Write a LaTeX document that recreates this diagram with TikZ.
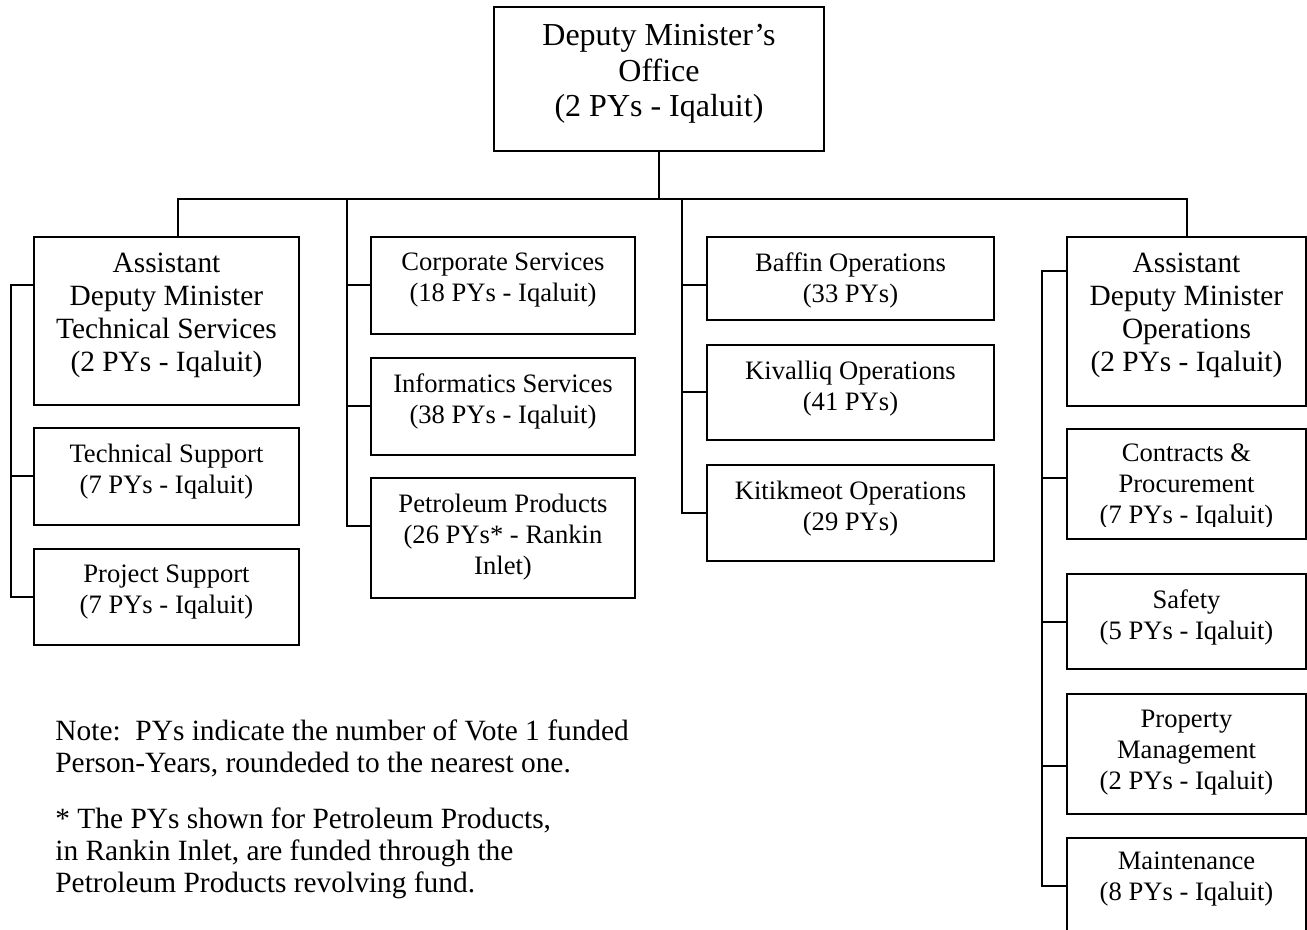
\documentclass[tikz,border=0pt]{standalone}
\usepackage{fontspec}
\setmainfont{Liberation Serif}
\usetikzlibrary{positioning, fit}

\begin{document}
\begin{tikzpicture}[
    x=0.5pt, y=-0.5pt,
    box/.style={rectangle, draw, line width=1pt, inner sep=0pt},
    big/.style={font=\fontsize{14.7}{16.5}\selectfont, align=center, inner sep=0pt},
    small/.style={font=\fontsize{13.3}{15.5}\selectfont, align=center, inner sep=0pt},
    note/.style={font=\fontsize{14.7}{16}\selectfont, align=left, inner sep=0pt, anchor=north west},
    link/.style={line width=1pt},
  ]
  \useasboundingbox (0,0) rectangle (1307,930);
  \clip (0,0) rectangle (1307,930);

  % deputy minister
  \node[box, fit={(494,7) (824,151)}] (dmo) {};
  \node[big, font=\fontsize{16}{17.75}\selectfont, below=9pt of dmo.north] (dmo-t) {Deputy Minister's\\Office\\(2 PYs - Iqaluit)};

  % technical services
  \node[box, fit={(34,237) (299,405)}] (admt) {};
  \node[big, below=8.3pt of admt.north] (admt-t) {Assistant\\Deputy Minister\\Technical Services\\(2 PYs - Iqaluit)};
  \node[box, fit={(34,428) (299,525)}] (tsup) {};
  \node[small, below=8.3pt of tsup.north] (tsup-t) {Technical Support\\(7 PYs - Iqaluit)};
  \node[box, fit={(34,549) (299,645)}] (psup) {};
  \node[small, below=8.3pt of psup.north] (psup-t) {Project Support\\(7 PYs - Iqaluit)};

  % corporate column
  \node[box, fit={(371,237) (635,334)}] (corp) {};
  \node[small, below=8.3pt of corp.north] (corp-t) {Corporate Services\\(18 PYs - Iqaluit)};
  \node[box, fit={(371,358) (635,455)}] (info) {};
  \node[small, below=8.3pt of info.north] (info-t) {Informatics Services\\(38 PYs - Iqaluit)};
  \node[box, fit={(371,478) (635,598)}] (petr) {};
  \node[small, below=8.3pt of petr.north] (petr-t) {Petroleum Products\\(26 PYs* - Rankin\\Inlet)};

  % regions
  \node[box, fit={(707,237) (994,320)}] (baff) {};
  \node[small, below=8.3pt of baff.north] (baff-t) {Baffin Operations\\(33 PYs)};
  \node[box, fit={(707,345) (994,440)}] (kiva) {};
  \node[small, below=8.3pt of kiva.north] (kiva-t) {Kivalliq Operations\\(41 PYs)};
  \node[box, fit={(707,465) (994,561)}] (kiti) {};
  \node[small, below=8.3pt of kiti.north] (kiti-t) {Kitikmeot Operations\\(29 PYs)};

  % operations
  \node[box, fit={(1067,237) (1306,406)}] (admo) {};
  \node[big, below=8.3pt of admo.north] (admo-t) {Assistant\\Deputy Minister\\Operations\\(2 PYs - Iqaluit)};
  \node[box, fit={(1067,429) (1306,539)}] (cont) {};
  \begin{scope}
    \clip (1067,429) rectangle (1306,527);
    \node[small, below=7.7pt of cont.north] (cont-t) {Contracts \&\\Procurement\\(7 PYs - Iqaluit)};
  \end{scope}
  \node[box, fit={(1067,574) (1306,669)}] (safe) {};
  \node[small, below=8.3pt of safe.north] (safe-t) {Safety\\(5 PYs - Iqaluit)};
  \node[box, fit={(1067,694) (1306,814)}] (prop) {};
  \node[small, below=8.3pt of prop.north] (prop-t) {Property\\Management\\(2 PYs - Iqaluit)};
  \node[box, fit={(1067,838) (1306,934)}] (mnt) {};
  \node[small, below=7.2pt of mnt.north] (mnt-t) {Maintenance\\(8 PYs - Iqaluit)};

  % connectors
  \coordinate (bus-l) at (178,199);
  \coordinate (bus-r) at (1187,199);
  \coordinate (sp1) at (11,285);
  \coordinate (sp2) at (347,199);
  \coordinate (sp3) at (682,199);
  \coordinate (sp4) at (1042,271);

  \draw[link] (dmo) -- (dmo |- bus-l);
  \draw[link] (admt.north -| bus-l) -- (bus-l) -- (bus-r) -- (admo.north -| bus-r);
  \draw[link] (admt.west |- sp1) -- (sp1) |- (psup.west);
  \draw[link] (sp1) |- (tsup.west);
  \draw[link] (sp2) |- ([yshift=6pt]petr.west);
  \draw[link] (sp2) |- (corp.west);
  \draw[link] (sp2) |- (info.west);
  \draw[link] (sp3) |- (kiti.west);
  \draw[link] (sp3) |- ([yshift=-3.25pt]baff.west);
  \draw[link] (sp3) |- (kiva.west);
  \draw[link] (admo.west |- sp4) -- (sp4) |- (mnt.west);
  \draw[link] (sp4) |- ([yshift=3pt]cont.west);
  \draw[link] (sp4) |- (safe.west);
  \draw[link] (sp4) |- ([yshift=-6pt]prop.west);

  % notes
  \node[note] (note1) at (55,719) {Note:\ \ PYs indicate the number of Vote 1 funded\\Person-Years, roundeded to the nearest one.};
  \node[note] (note2) at (55,807) {* The PYs shown for Petroleum Products,\\in Rankin Inlet, are funded through the\\Petroleum Products revolving fund.};
\end{tikzpicture}
\end{document}
